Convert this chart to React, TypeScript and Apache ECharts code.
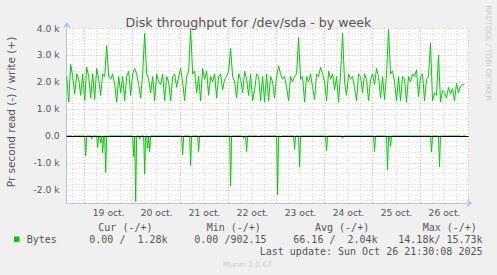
import React, { useEffect, useRef } from 'react';
import * as echarts from 'echarts';

// Hours are counted from Oct 18 00:00; one value per hour starting at startHour.
const startHour = 15;
const axisMinHour = 15;
const axisMaxHour = 216;

// write (+) throughput, in k bytes per second, hourly from Oct 18 15:00
const writeK = [
  2.2, 1.25, 2.65, 2.2, 1.55, 2.3, 2.1, 1.5, 2.3, 1.3,
  2.55, 2.2, 1.4, 2.3, 1.35, 2.5, 2.1, 1.5, 2.3, 2.2,
  3.35, 2.2, 2.1, 2.3, 1.9, 1.25, 2.2, 1.6, 2.2, 1.3,
  2.2, 2.4, 1.5, 2.3, 2.5, 2.3, 1.9, 1.4, 2.3, 3.8,
  2.3, 2.1, 1.6, 2.2, 1.3, 2.3, 2.0, 1.9, 2.3, 1.3,
  2.2, 2.0, 1.3, 2.2, 2.3, 1.8, 2.2, 2.5, 2.0, 1.3,
  2.2, 2.4, 4.0, 2.3, 2.4, 1.6, 2.2, 1.3, 2.5, 2.1,
  2.4, 1.5, 2.2, 2.0, 2.3, 1.4, 2.2, 2.3, 1.7, 2.1,
  2.2, 2.4, 3.25, 2.2, 2.0, 1.4, 2.3, 2.1, 1.6, 2.4,
  2.1, 1.5, 2.3, 1.3, 1.7, 2.3, 2.2, 1.3, 2.2, 1.25,
  2.3, 1.3, 2.2, 2.0, 1.4, 2.2, 2.6, 2.3, 2.1, 2.2,
  1.8, 1.3, 2.2, 2.0, 2.2, 2.3, 3.65, 2.1, 2.2, 1.25,
  2.2, 2.0, 2.3, 1.8, 1.35, 2.3, 2.2, 2.55, 2.3, 2.0,
  1.3, 2.4, 2.1, 2.3, 1.7, 2.2, 1.25, 2.3, 3.8, 2.0,
  1.5, 2.3, 2.1, 2.2, 1.8, 1.3, 2.3, 2.2, 1.6, 2.3,
  2.1, 1.3, 2.1, 2.3, 1.9, 2.5, 2.2, 1.4, 2.2, 1.35,
  2.3, 3.95, 2.3, 2.4, 2.0, 1.3, 2.2, 1.3, 2.2, 2.1,
  1.25, 2.2, 2.0, 2.3, 2.2, 2.45, 1.45, 2.2, 2.3, 1.3,
  2.1, 2.2, 3.45, 1.3, 1.6, 1.5, 3.0, 1.25, 1.7, 1.6,
  1.4, 1.8, 1.55, 1.75, 1.3, 1.95, 1.6, 1.85, 1.9, 1.9,
];

// read (-) throughput: zero except at these hours (k bytes per second, negative)
const readSpikeHours = [
  18, 24.5, 27.5, 30.5, 32, 33, 34.5, 48.5, 49.5, 51.5, 54, 55.5, 56.5,
  73, 77, 81, 97, 103.5, 105, 111, 120.5, 122, 129, 131.5, 145, 153,
  169, 175.5, 177, 197.5, 201.5, 212.5,
];
const readSpikeK = [
  -0.03, -0.74, -0.12, -0.43, -0.27, -0.62, -1.36, -0.77, -2.43, -0.12, -1.41, -0.45, -0.58,
  -0.7, -1.1, -0.58, -1.85, -0.09, -0.58, -0.05, -2.18, -0.05, -0.5, -1.14, -0.55, -0.09,
  -0.58, -1.27, -0.4, -0.6, -1.15, -0.05,
];
const readStepHours = 0.5;
const readEndHour = 214.5;

const dayLabels = ['19 oct.', '20 oct.', '21 oct.', '22 oct.', '23 oct.', '24 oct.', '25 oct.', '26 oct.'];
const dayLabelHours = [36, 60, 84, 108, 132, 156, 180, 204];

const yMinK = -2.5;
const yMaxK = 4.0;

const titleText = 'Disk throughput for /dev/sda - by week';
const yTitle = 'Pr second read (-) / write (+)';
const sideText = 'RRDTOOL / TOBI OETIKER';
const seriesName = 'Bytes';
const legendHeaders = ['Cur (-/+)', 'Min (-/+)', 'Avg (-/+)', 'Max (-/+)'];
const legendValues = ['0.00 /  1.28k', '0.00 /902.15', '66.16 /  2.04k', '14.18k/ 15.73k'];
const lastUpdate = 'Last update: Sun Oct 26 21:30:08 2025';
const muninVersion = 'Munin 2.0.67';

const GREEN = '#00cc00';
const TXT = '#555555';
const SANS = '"DejaVu Sans", sans-serif';
const MONO = '"DejaVu Sans Mono", monospace';
const MAJOR = '#f0a8a8';
const MINOR = '#d4d4d4';
const AXIS = '#b8c0f0';

export default function App() {
  const ref = useRef<HTMLDivElement>(null);

  useEffect(() => {
    document.body.style.margin = '0';
    if (!ref.current) return;
    const chart = echarts.init(ref.current, undefined, { renderer: 'svg' });

    const writeData = writeK.map((v, i) => [startHour + i, v]);
    const spikeMap = new Map<number, number>();
    readSpikeHours.forEach((h, i) => spikeMap.set(h, readSpikeK[i]));
    const readData: number[][] = [];
    for (let h = startHour; h <= readEndHour + 1e-9; h += readStepHours) {
      readData.push([h, spikeMap.has(h) ? (spikeMap.get(h) as number) : 0]);
    }

    const labelMap = new Map<number, string>();
    dayLabelHours.forEach((h, i) => labelMap.set(h, dayLabels[i]));

    const T = 'transparent';
    const headerX = [98.3, 206.7, 315, 422.7];
    const valueX = [89.3, 194.3, 293.3, 398.3];

    const graphic: any[] = [
      {
        type: 'text', x: 10.5, y: 112, rotation: Math.PI / 2,
        style: { text: yTitle, fill: TXT, font: `10.5px ${SANS}`, align: 'center', verticalAlign: 'middle' },
      },
      {
        type: 'text', x: 488, y: 53, rotation: -Math.PI / 2,
        style: { text: sideText, fill: '#c8c8c8', font: `7.4px ${SANS}`, align: 'center', verticalAlign: 'middle' },
      },
      { type: 'rect', shape: { x: 14, y: 236.5, width: 5.5, height: 5.5 }, style: { fill: GREEN } },
      {
        type: 'text', x: 26.7, y: 239.5,
        style: { text: seriesName, fill: TXT, font: `10px ${MONO}`, align: 'left', verticalAlign: 'middle' },
      },
      ...legendHeaders.map((t, i) => ({
        type: 'text', x: headerX[i], y: 227.8,
        style: { text: t, fill: TXT, font: `10px ${MONO}`, align: 'left', verticalAlign: 'middle' },
      })),
      ...legendValues.map((t, i) => ({
        type: 'text', x: valueX[i], y: 239.5,
        style: { text: t, fill: TXT, font: `10px ${MONO}`, align: 'left', verticalAlign: 'middle' },
      })),
      {
        type: 'text', x: 482.5, y: 251.2,
        style: { text: lastUpdate, fill: TXT, font: `10px ${MONO}`, align: 'right', verticalAlign: 'middle' },
      },
      {
        type: 'text', x: 247.5, y: 264,
        style: { text: muninVersion, fill: '#cccccc', font: `7.5px ${SANS}`, align: 'center', verticalAlign: 'middle' },
      },
    ];

    chart.setOption({
      animation: false,
      backgroundColor: '#f0f0f0',
      title: {
        text: titleText,
        left: 'center',
        top: 11,
        textStyle: { color: TXT, fontSize: 12.6, fontWeight: 'normal', fontFamily: SANS },
      },
      grid: {
        left: 66.7, right: 28.5, top: 28, bottom: 71.7,
        show: true, backgroundColor: '#ffffff', borderWidth: 0,
      },
      xAxis: {
        type: 'value',
        min: axisMinHour,
        max: axisMaxHour,
        interval: 3,
        axisLine: {
          show: true, onZero: false,
          lineStyle: { color: AXIS, width: 1 },
          symbol: ['none', 'arrow'], symbolSize: [6, 6], symbolOffset: [0, 4],
        },
        axisTick: { show: false },
        axisLabel: {
          margin: 4.5,
          color: TXT,
          fontSize: 9.2,
          fontFamily: SANS,
          showMinLabel: true,
          showMaxLabel: true,
          formatter: (v: number) => labelMap.get(Math.round(v)) || '',
        },
        splitLine: {
          show: true,
          lineStyle: { color: [T, MINOR, T, MAJOR, T, MINOR, T, MINOR], type: [1, 2], width: 1 },
        },
      },
      yAxis: {
        type: 'value',
        min: yMinK,
        max: yMaxK,
        interval: 0.1,
        axisLine: {
          show: true, onZero: false,
          lineStyle: { color: AXIS, width: 1 },
          symbol: ['none', 'arrow'], symbolSize: [6, 6], symbolOffset: [0, 6],
        },
        axisTick: { show: false },
        axisLabel: {
          margin: 7,
          color: TXT,
          fontSize: 9.2,
          fontFamily: SANS,
          formatter: (v: number) => {
            const t = Math.round(v * 10);
            if (t % 10 !== 0) return '';
            if (t === 0) return '0.0';
            return (t / 10).toFixed(1) + ' k';
          },
        },
        splitLine: {
          show: true,
          lineStyle: { color: [T, MINOR, T, MINOR, T, MAJOR, T, MINOR, T, MINOR], type: [1, 2], width: 1 },
        },
      },
      series: [
        {
          name: 'write',
          type: 'line',
          data: writeData,
          showSymbol: false,
          symbol: 'none',
          lineStyle: { color: GREEN, width: 1 },
          z: 3,
        },
        {
          name: 'read',
          type: 'line',
          data: readData,
          showSymbol: false,
          symbol: 'none',
          lineStyle: { color: GREEN, width: 1 },
          z: 3,
          markLine: {
            silent: true,
            symbol: 'none',
            label: { show: false },
            lineStyle: { color: '#000000', width: 1.2, type: 'solid' },
            data: [{ yAxis: 0 }],
          },
        },
      ],
      graphic,
    });

    return () => chart.dispose();
  }, []);

  return <div ref={ref} style={{ width: 497, height: 275, position: 'absolute', left: 0, top: 0 }} />;
}
